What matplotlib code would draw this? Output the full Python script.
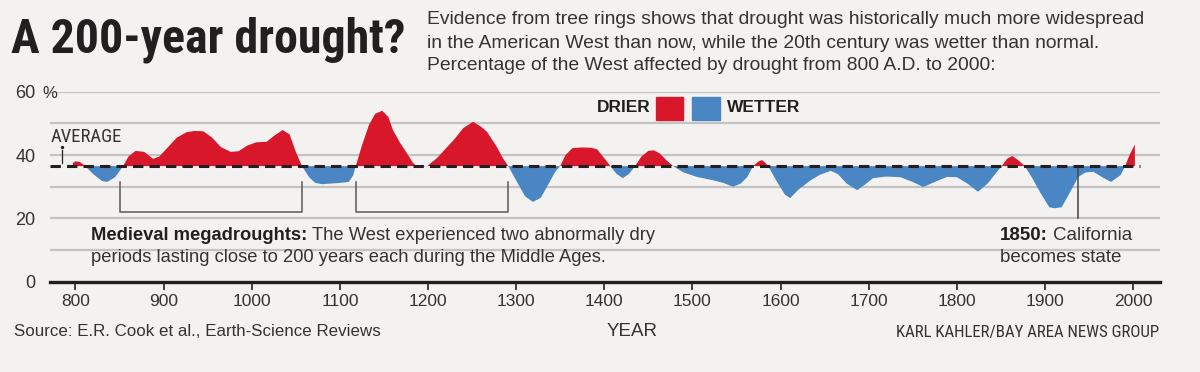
import matplotlib.pyplot as plt
import numpy as np

# percentage of the West affected by drought
years = [797, 800, 805, 811, 820, 830, 836, 845, 854, 860, 868, 878, 888, 895,
         905, 915, 926, 935, 945, 955, 965, 976, 985, 995, 1005, 1017, 1025,
         1035, 1043, 1050, 1057, 1065, 1072, 1080, 1090, 1100, 1110, 1115,
         1118, 1125, 1133, 1140, 1148, 1155, 1160, 1168, 1176, 1183, 1187,
         1193, 1199, 1210, 1220, 1230, 1240, 1251, 1260, 1267, 1278, 1285,
         1291, 1300, 1310, 1319, 1328, 1339, 1345, 1350, 1356, 1364, 1375,
         1385, 1392, 1400, 1407, 1414, 1421, 1428, 1435, 1442, 1450, 1456,
         1463, 1470, 1478, 1490, 1505, 1515, 1524, 1535, 1546, 1555, 1562,
         1569, 1575, 1579, 1583, 1586, 1595, 1605, 1611, 1620, 1634, 1645,
         1657, 1665, 1675, 1687, 1695, 1705, 1720, 1736, 1750, 1762, 1775,
         1789, 1800, 1812, 1824, 1835, 1845, 1851, 1857, 1863, 1870, 1877,
         1885, 1895, 1905, 1911, 1919, 1928, 1938, 1946, 1955, 1965, 1975,
         1986, 1991, 1996, 2002, 2002.1]
drought = [37.5, 38.0, 37.8, 36.5, 34.0, 31.8, 31.5, 33.0, 36.5, 39.5, 41.3,
           41.0, 38.8, 39.5, 42.5, 45.5, 47.2, 47.6, 47.5, 45.5, 42.5, 41.0,
           41.2, 43.0, 44.0, 44.2, 46.0, 47.9, 46.5, 41.0, 36.5, 33.0, 31.2,
           30.8, 31.0, 31.2, 31.5, 33.5, 36.5, 43.0, 49.5, 53.0, 54.0, 52.0,
           48.0, 44.0, 40.6, 37.5, 36.5, 36.3, 36.5, 39.0, 42.0, 45.0, 48.5,
           50.5, 49.0, 47.3, 42.6, 39.0, 36.5, 32.0, 27.0, 25.2, 26.5, 32.0,
           35.0, 36.5, 40.0, 42.2, 42.4, 42.3, 41.8, 39.0, 36.5, 34.0, 32.7,
           34.0, 36.5, 39.5, 41.3, 41.5, 40.5, 38.5, 36.5, 34.5, 33.1, 32.5,
           32.0, 31.2, 30.0, 31.0, 33.0, 36.5, 38.0, 38.4, 37.5, 36.5, 32.0,
           27.5, 26.4, 29.0, 32.0, 33.8, 35.0, 34.0, 31.0, 28.9, 30.5, 32.7,
           33.2, 33.0, 31.5, 29.9, 31.5, 33.1, 33.0, 31.0, 28.4, 31.0, 34.5,
           36.5, 38.8, 39.7, 38.3, 36.5, 33.0, 28.0, 23.5, 23.2, 23.5, 28.0,
           33.1, 34.5, 34.7, 33.0, 31.5, 33.7, 36.5, 40.0, 43.3, 36.5]
average = 36.5

year_ticks = [800, 900, 1000, 1100, 1200, 1300, 1400, 1500, 1600, 1700,
              1800, 1900, 2000]
pct_ticks = [0, 20, 40, 60]
pct_labels = ["0", "20", "40", "60"]

megadroughts = [(851, 1057), (1118, 1291)]
statehood_line = 1938   # where the 1850 marker is drawn in the original

RED = "#d8172b"
BLUE = "#4a86c4"
BG = "#f3f2f0"
INK = "#231f20"
NARROW = ['Roboto Condensed', 'Liberation Sans Narrow', 'DejaVu Sans']

plt.rcParams['font.family'] = ['Liberation Sans', 'DejaVu Sans']

W, H = 1200, 372
fig = plt.figure(figsize=(12, 3.72), dpi=100, facecolor=BG)


def fx(px):
    return px / W


def fy(py):
    return 1 - py / H


ax = fig.add_axes([fx(49.5), fy(281.7), fx(1159.5) - fx(49.5), fy(91.7) - fy(281.7)])
ax.set_facecolor(BG)
ax.set_xlim(770.5, 2030)
ax.set_ylim(0, 60)

for g in range(10, 61, 10):
    ax.axhline(g, color="#c4c3c1", lw=1.6, zorder=1)

yrs = np.array(years)
vals = np.array(drought)
ax.fill_between(yrs, vals, average, where=vals >= average, interpolate=True,
                color=RED, lw=0, zorder=2)
ax.fill_between(yrs, vals, average, where=vals <= average, interpolate=True,
                color=BLUE, lw=0, zorder=2)

ax.plot([770.5, 2008], [average, average], color=INK, lw=2.2, ls=(0, (3.4, 2.0)),
        zorder=4)

# brackets under the two megadroughts
for a, b in megadroughts:
    ax.plot([a, a, b, b], [31.5, 22, 22, 31.5], color="#5a5858", lw=1.1, zorder=3)

ax.plot([statehood_line, statehood_line], [36, 20], color="#444", lw=1.1, zorder=3)

# little average pointer
ax.plot([785, 785], [37.6, 41.6], color=INK, lw=0.9, zorder=3)
ax.plot([785], [42.6], marker="o", ms=1.4, color=INK, zorder=3)

for s in ["top", "right", "left"]:
    ax.spines[s].set_visible(False)
ax.spines["bottom"].set_color(INK)
ax.spines["bottom"].set_linewidth(2.4)
ax.set_xticks(year_ticks)
ax.set_xticklabels([str(y) for y in year_ticks], fontsize=12.5, color="#333")
ax.tick_params(axis="x", length=6, width=1.2, color=INK, pad=3)
ax.set_yticks(pct_ticks)
ax.set_yticklabels(pct_labels, fontsize=13, color="#333")
ax.tick_params(axis="y", length=0, pad=10)
fig.text(fx(42), fy(93), "%", fontsize=12, color="#333", va="center")

ax.text(772, 45.8, "AVERAGE", fontsize=13.5, color="#333", va="center",
        family=NARROW, stretch="condensed")

# legend
fig.text(fx(651), fy(107), "DRIER", fontsize=12.5, weight="bold", color=INK,
         ha="right", va="center")
fig.patches.append(plt.Rectangle((fx(656), fy(120)), fx(27), fy(97) - fy(120),
                                 transform=fig.transFigure, color=RED))
fig.patches.append(plt.Rectangle((fx(692), fy(120)), fx(28), fy(97) - fy(120),
                                 transform=fig.transFigure, color=BLUE))
fig.text(fx(727), fy(107), "WETTER", fontsize=12.5, weight="bold", color=INK,
         va="center")

# annotations
t = fig.text(fx(91), fy(236), "Medieval megadroughts:", fontsize=13.2,
             weight="bold", color=INK, va="center")
fig.canvas.draw()
bb = t.get_window_extent()
fig.text(bb.x1 / W + fx(5), fy(236),
         "The West experienced two abnormally dry", fontsize=13.2,
         color="#333", va="center")
fig.text(fx(91), fy(258), "periods lasting close to 200 years each during the Middle Ages.",
         fontsize=13.2, color="#333", va="center")

t2 = fig.text(fx(1000), fy(236), "1850:", fontsize=13.5, weight="bold",
              color=INK, va="center")
fig.canvas.draw()
bb2 = t2.get_window_extent()
fig.text(bb2.x1 / W + fx(5), fy(236), "California", fontsize=13.5,
         color="#333", va="center")
fig.text(fx(1000), fy(258), "becomes state", fontsize=13.5, color="#333",
         va="center")

# header
fig.text(fx(11), fy(40), "A 200-year drought?", fontsize=34.5, weight="bold",
         color=INK, va="center", family=NARROW, stretch="condensed")
subtitle = ["Evidence from tree rings shows that drought was historically much more widespread",
            "in the American West than now, while the 20th century was wetter than normal.",
            "Percentage of the West affected by drought from 800 A.D. to 2000:"]
for i, line in enumerate(subtitle):
    fig.text(fx(427), fy(20 + 23 * i), line, fontsize=13.9, color="#333",
             va="center")

# footer
fig.text(fx(14), fy(331), "Source: E.R. Cook et al., Earth-Science Reviews",
         fontsize=12.2, color="#333", va="center")
fig.text(fx(632), fy(332), "YEAR", fontsize=13.5, color="#333", va="center",
         ha="center")
fig.text(fx(1159), fy(333), "KARL KAHLER/BAY AREA NEWS GROUP", fontsize=12.2,
         color="#333", va="center", ha="right", family=NARROW,
         stretch="condensed")

fig.savefig("out.png", dpi=100, facecolor=BG)
